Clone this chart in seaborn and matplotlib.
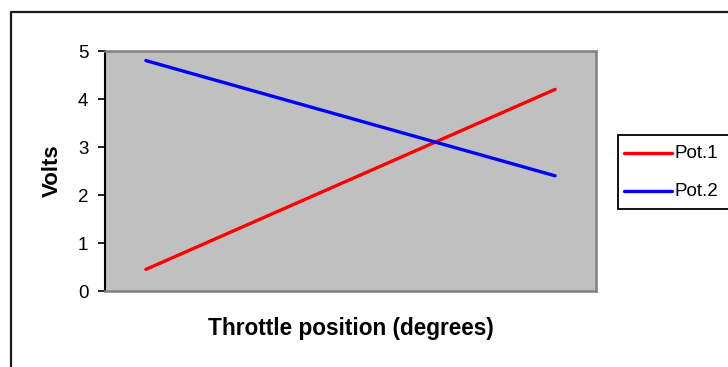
import matplotlib
matplotlib.use("Agg")
import matplotlib.pyplot as plt
from matplotlib.lines import Line2D
from matplotlib.patches import Rectangle
import seaborn as sns
import pandas as pd

# Throttle sweep: six category steps, two potentiometer tracks
positions = [0, 1, 2, 3, 4, 5]
pot1_volts = [0.45, 1.20, 1.95, 2.70, 3.45, 4.20]
pot2_volts = [4.80, 4.32, 3.84, 3.36, 2.88, 2.40]
series_names = ["Pot.1", "Pot.2"]
y_ticks = [0, 1, 2, 3, 4, 5]

df = pd.DataFrame({
    "position": positions * 2,
    "volts": pot1_volts + pot2_volts,
    "sensor": [series_names[0]] * len(positions) + [series_names[1]] * len(positions),
})

sns.set_theme(style="white")
plt.rcParams["font.family"] = ["Liberation Sans", "DejaVu Sans"]
plt.rcParams["text.color"] = "black"
plt.rcParams["axes.labelcolor"] = "black"
plt.rcParams["ytick.color"] = "black"
plt.rcParams["xtick.color"] = "black"

W, H = 728, 367
fig = plt.figure(figsize=(W / 100, H / 100), dpi=100)
fig.patch.set_facecolor("white")

ax_l, ax_r, ax_t, ax_b = 105, 596, 51, 291
ax = fig.add_axes([ax_l / W, 1 - ax_b / H, (ax_r - ax_l) / W, (ax_b - ax_t) / H])
ax.set_facecolor("#C0C0C0")

sns.lineplot(data=df, x="position", y="volts", hue="sensor",
             palette={"Pot.1": "#FF0000", "Pot.2": "#0000FF"},
             linewidth=2.4, legend=False, ax=ax)

ax.set_xlim(-0.5, len(positions) - 0.5)
ax.set_ylim(0, 5)
ax.set_yticks(y_ticks)
ax.set_yticklabels([str(v) for v in y_ticks])
ax.set_xticks([])
ax.tick_params(axis="y", which="major", direction="out", length=5, width=1.2,
               color="black", labelcolor="black", labelsize=13.5, pad=7, left=True)

for side in ("top", "right", "bottom"):
    ax.spines[side].set_color("#808080")
    ax.spines[side].set_linewidth(1.8)
ax.spines["left"].set_color("black")
ax.spines["left"].set_linewidth(1.5)

ax.set_ylabel("Volts", fontsize=16, fontweight="bold", color="black")
ax.yaxis.set_label_coords(-(ax_l - 52) / (ax_r - ax_l), 0.5)
ax.yaxis.label.set_va("center")
ax.set_xlabel("Throttle position (degrees)", fontsize=16.3, fontweight="bold", color="black")
ax.xaxis.set_label_coords(0.5, -(328 - ax_b) / (ax_b - ax_t))
ax.xaxis.label.set_va("center")

# Legend box (extends past the right edge)
fig.add_artist(Rectangle((618 / W, 1 - 209 / H), (740 - 618) / W, (209 - 135) / H,
                         transform=fig.transFigure, facecolor="white",
                         edgecolor="black", linewidth=1.3, clip_on=False))
legend_rows = [(series_names[0], "#FF0000", 153), (series_names[1], "#0000FF", 191)]
for name, color, yy in legend_rows:
    fig.add_artist(Line2D([624 / W, 672 / W], [1 - yy / H, 1 - yy / H],
                          transform=fig.transFigure, color=color, linewidth=2.4))
    fig.text(675 / W, 1 - yy / H, name, fontsize=13.5, va="center", ha="left",
             color="black")

# Outer chart frame
fig.add_artist(Line2D([11 / W, 11 / W, 1.0], [0.0, 1 - 12 / H, 1 - 12 / H],
                      transform=fig.transFigure, color="#1a1a1a", linewidth=1.6))

fig.savefig("out.png", dpi=100)
